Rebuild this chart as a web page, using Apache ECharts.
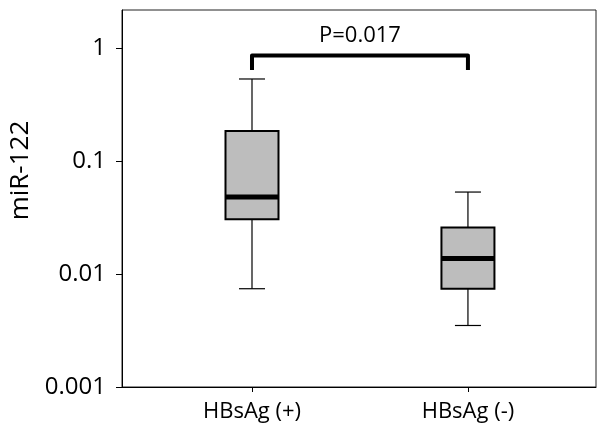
<!DOCTYPE html>
<html>
<head>
<meta charset="utf-8">
<script src="https://cdn.jsdelivr.net/npm/echarts@6/dist/echarts.min.js"></script>
<style>
html, body { margin: 0; padding: 0; background: #fff; }
#chart { width: 599px; height: 433px; }
</style>
</head>
<body>
<div id="chart"></div>
<script>
// groups and box statistics
var groups = ['HBsAg (+)', 'HBsAg (-)'];
var groupPos = [1, 2];
var whiskerLow = [0.0074, 0.0035];
var q1 = [0.0305, 0.0074];
var medians = [0.048, 0.0137];
var q3 = [0.184, 0.0257];
var whiskerHigh = [0.53, 0.053];

var yTicks = [0.001, 0.01, 0.1, 1];
var yMax = 2.16;

// significance bracket
var pLabel = 'P=0.017';
var bracketFoot = 0.635;
var bracketTop = 0.853;
var pLabelAt = 1.28;

function lg(v) {
    return Math.log10(v);
}

var boxData = groupPos.map(function(x, i) {
    return [x, lg(whiskerLow[i]), lg(q1[i]), lg(medians[i]), lg(q3[i]), lg(whiskerHigh[i])];
});

var bracketData = [
    [groupPos[0], lg(bracketFoot)],
    [groupPos[0], lg(bracketTop)],
    [groupPos[1], lg(bracketTop)],
    [groupPos[1], lg(bracketFoot)]
];

function renderBox(params, api) {
    var x = api.value(0);
    var pLow = api.coord([x, api.value(1)]);
    var pQ1 = api.coord([x, api.value(2)]);
    var pMed = api.coord([x, api.value(3)]);
    var pQ3 = api.coord([x, api.value(4)]);
    var pHigh = api.coord([x, api.value(5)]);
    var cx = pMed[0];
    var half = 26.5;
    var cap = 13;
    var thin = { stroke: '#000', lineWidth: 1.2 };
    return {
        type: 'group',
        children: [
            { type: 'line', shape: { x1: cx, y1: pHigh[1], x2: cx, y2: pQ3[1] }, style: thin },
            { type: 'line', shape: { x1: cx, y1: pQ1[1], x2: cx, y2: pLow[1] }, style: thin },
            { type: 'line', shape: { x1: cx - cap, y1: pHigh[1], x2: cx + cap, y2: pHigh[1] }, style: thin },
            { type: 'line', shape: { x1: cx - cap, y1: pLow[1], x2: cx + cap, y2: pLow[1] }, style: thin },
            {
                type: 'rect',
                shape: { x: cx - half, y: pQ3[1], width: half * 2, height: pQ1[1] - pQ3[1] },
                style: { fill: '#bdbdbd', stroke: '#000', lineWidth: 2 }
            },
            {
                type: 'line',
                shape: { x1: cx - half, y1: pMed[1], x2: cx + half, y2: pMed[1] },
                style: { stroke: '#000', lineWidth: 5 }
            }
        ]
    };
}

var chart = echarts.init(document.getElementById('chart'));

var option = {
    animation: false,
    textStyle: { fontFamily: 'Open Sans', color: '#000' },
    grid: {
        left: 122,
        right: 3,
        top: 10,
        bottom: 46,
        show: true,
        borderColor: '#222',
        borderWidth: 1,
        outerBoundsMode: 'none'
    },
    xAxis: {
        type: 'value',
        min: 0.398,
        max: 2.593,
        splitLine: { show: false },
        axisLine: { onZero: false, lineStyle: { color: '#000', width: 1 } },
        axisTick: { customValues: groupPos, length: 5, lineStyle: { color: '#000' } },
        axisLabel: {
            customValues: groupPos,
            margin: 14,
            fontSize: 22,
            color: '#000',
            formatter: function(v) {
                return groups[groupPos.indexOf(v)];
            }
        }
    },
    yAxis: {
        type: 'value',
        min: -3,
        max: lg(yMax),
        name: 'miR-122',
        nameLocation: 'middle',
        nameGap: 82,
        nameTextStyle: { fontSize: 26, color: '#000', padding: [0, 0, 0, 56] },
        splitLine: { show: false },
        axisLine: { onZero: false, lineStyle: { color: '#000', width: 1 } },
        axisTick: { customValues: yTicks.map(lg), length: 6, lineStyle: { color: '#000' } },
        axisLabel: {
            customValues: yTicks.map(lg),
            margin: 16,
            fontSize: 24,
            color: '#000',
            formatter: function(v) {
                for (var i = 0; i < yTicks.length; i++) {
                    if (Math.abs(lg(yTicks[i]) - v) < 1e-9) return String(yTicks[i]);
                }
                return '';
            }
        }
    },
    series: [
        {
            type: 'custom',
            renderItem: renderBox,
            encode: { x: 0, y: [1, 2, 3, 4, 5] },
            data: boxData,
            silent: true
        },
        {
            type: 'line',
            data: bracketData,
            symbol: 'none',
            silent: true,
            lineStyle: { color: '#000', width: 4, join: 'round', cap: 'butt' }
        },
        {
            type: 'scatter',
            data: [[(groupPos[0] + groupPos[1]) / 2, lg(pLabelAt)]],
            symbolSize: 1,
            silent: true,
            itemStyle: { color: 'rgba(0,0,0,0)', opacity: 1 },
            label: {
                show: true,
                position: 'inside',
                formatter: pLabel,
                fontSize: 22,
                color: '#000',
                opacity: 1,
                textBorderWidth: 0
            }
        }
    ]
};

chart.setOption(option);
</script>
</body>
</html>
